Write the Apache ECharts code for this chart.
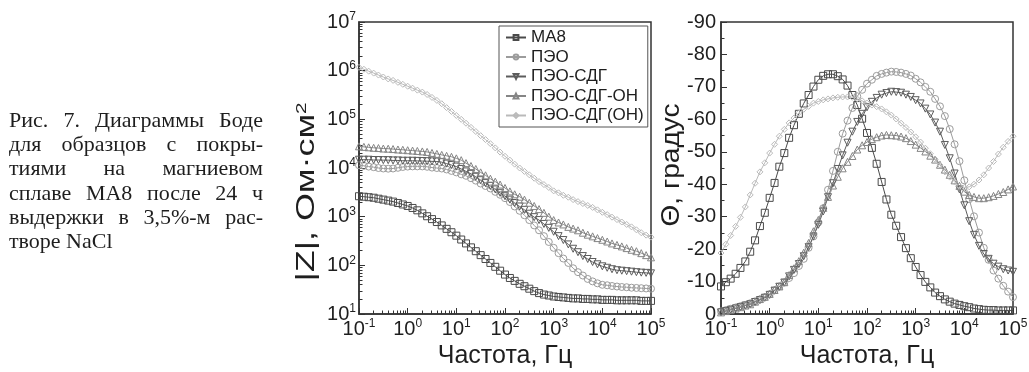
<!DOCTYPE html>
<html>
<head>
<meta charset="utf-8">
<script src="https://cdn.jsdelivr.net/npm/echarts@6/dist/echarts.min.js"></script>
<style>
  html, body { margin: 0; background: #fff; }
  #main { width: 1029px; height: 372px; }
</style>
</head>
<body>
<div id="main"></div>
<script>
// частоты, Гц (10 точек на декаду)
const freq = [
  0.1, 0.126, 0.158, 0.2, 0.251, 0.316, 0.398, 0.501, 0.631, 0.794,
  1, 1.26, 1.58, 2, 2.51, 3.16, 3.98, 5.01, 6.31, 7.94,
  10, 12.6, 15.8, 20, 25.1, 31.6, 39.8, 50.1, 63.1, 79.4,
  100, 126, 158, 200, 251, 316, 398, 501, 631, 794,
  1000, 1260, 1580, 2000, 2510, 3160, 3980, 5010, 6310, 7940,
  10000, 12600, 15800, 20000, 25100, 31600, 39800, 50100, 63100, 79400,
  100000
];

const names = ["МА8", "ПЭО", "ПЭО-СДГ", "ПЭО-СДГ-ОН", "ПЭО-СДГ(ОН)"];

// |Z|, Ом·см2
const zMA8 = [
  2630, 2570, 2510, 2450, 2340, 2240, 2140, 2040, 1910, 1780,
  1660, 1510, 1350, 1170, 1020, 891, 776, 661, 562, 479,
  407, 339, 282, 234, 195, 162, 135, 112, 93.3, 77.6,
  64.6, 55.0, 47.9, 41.7, 37.2, 33.1, 29.5, 26.9, 25.1, 24.0,
  22.9, 22.4, 21.9, 21.4, 20.9, 20.9, 20.4, 20.4, 20.0, 20.0,
  19.5, 19.5, 19.5, 19.1, 19.1, 19.1, 19.1, 19.1, 18.6, 18.6,
  18.6
];
const zPEO = [
  11400, 11100, 10700, 10400, 10000, 9770, 9680, 9770, 10100, 10500,
  10700, 10800, 10800, 10800, 10600, 10200, 10000, 9770, 9330, 8710,
  8130, 7410, 6920, 6170, 5500, 4790, 4270, 3800, 3240, 2820,
  2400, 2000, 1620, 1320, 1070, 851, 661, 525, 398, 302,
  229, 178, 138, 112, 87.1, 72.4, 61.7, 52.5, 46.8, 42.7,
  39.8, 38.9, 37.6, 36.7, 35.9, 35.5, 34.7, 34.3, 33.9, 33.5,
  33.1
];
const zSDG = [
  14800, 14800, 14800, 14600, 14600, 14500, 14500, 14300, 14300, 14100,
  14100, 14100, 14000, 13900, 13800, 13700, 13600, 13200, 12300, 11500,
  10700, 9550, 8510, 7590, 6610, 5620, 4900, 4270, 3630, 3090,
  2630, 2240, 1910, 1620, 1380, 1150, 977, 851, 708, 589,
  490, 398, 331, 269, 219, 186, 155, 135, 117, 105,
  95.5, 89.1, 83.2, 79.4, 77.6, 75.9, 74.1, 72.4, 70.8, 70.0,
  68.5
];
const zSDG_OH = [
  27900, 27200, 26600, 26000, 25700, 25100, 24900, 24500, 24000, 23700,
  23200, 22800, 22400, 21900, 21400, 20400, 19500, 18600, 17800, 17000,
  15800, 14500, 12600, 11000, 9550, 8130, 7080, 6030, 5250, 4570,
  3890, 3310, 2880, 2570, 2240, 1930, 1660, 1430, 1200, 1000,
  851, 759, 692, 617, 569, 525, 468, 427, 394, 363,
  335, 309, 282, 263, 245, 226, 209, 195, 178, 162,
  146
];
const zSDG_OH2 = [
  1170000, 1070000, 977000, 891000, 813000, 741000, 676000, 631000, 575000, 525000,
  479000, 437000, 398000, 363000, 324000, 282000, 245000, 209000, 174000, 145000,
  120000, 100000, 83200, 68400, 56200, 46200, 38400, 31600, 25900, 21200,
  17400, 14500, 12000, 10000, 8510, 7240, 6170, 5250, 4570, 3980,
  3390, 3090, 2750, 2510, 2240, 2040, 1860, 1700, 1550, 1380,
  1230, 1100, 977, 871, 776, 692, 617, 537, 468, 417,
  380
];

// фаза, градус
const pMA8 = [
  -8.5, -9.8, -10.9, -12.4, -14.2, -16.2, -19.2, -22.7, -27.1, -31.2,
  -35.8, -40.4, -45.4, -49.6, -54.3, -58.2, -61.7, -64.9, -67.5, -70.1,
  -72.2, -73.4, -73.9, -73.9, -73.3, -72.3, -70.4, -67.5, -64.4, -60.2,
  -55.8, -51.2, -46.3, -40.7, -35.3, -30.6, -27.2, -23.7, -20.3, -17.2,
  -14.5, -12.0, -9.9, -8.2, -6.6, -5.5, -4.5, -3.8, -3.2, -2.8,
  -2.4, -2.1, -1.7, -1.5, -1.3, -1.2, -1.2, -1.1, -1.1, -1.1,
  -1.1
];
const pPEO = [
  -0.8, -1.2, -1.6, -2.0, -2.4, -2.8, -3.3, -3.9, -4.5, -5.2,
  -6.1, -7.3, -8.5, -9.7, -11.1, -12.6, -14.8, -17.0, -20.4, -23.9,
  -28.2, -32.6, -38.3, -44.1, -50.0, -55.6, -59.6, -63.5, -67.1, -69.1,
  -71.0, -72.2, -73.4, -74.0, -74.4, -74.7, -74.6, -74.4, -74.0, -73.5,
  -72.5, -71.4, -70.0, -68.5, -66.3, -64.0, -61.0, -57.0, -52.3, -47.1,
  -41.2, -35.4, -30.1, -25.1, -20.4, -16.7, -13.4, -10.9, -8.7, -6.9,
  -5.2
];
const pSDG = [
  -0.5, -0.9, -1.3, -1.7, -2.1, -2.6, -3.0, -3.7, -4.3, -5.0,
  -5.9, -7.2, -8.4, -9.7, -11.6, -13.6, -15.4, -17.8, -20.6, -23.9,
  -27.5, -31.6, -36.0, -40.3, -44.7, -48.9, -52.8, -56.2, -59.2, -61.7,
  -63.7, -65.4, -66.6, -67.6, -68.1, -68.5, -68.4, -68.2, -67.6, -66.9,
  -65.9, -64.9, -63.3, -61.5, -59.0, -56.2, -52.1, -48.0, -43.3, -38.4,
  -33.5, -28.6, -24.4, -21.0, -18.5, -17.0, -15.5, -14.6, -13.8, -13.4,
  -13.0
];
const pSDG_OH = [
  -0.5, -0.9, -1.3, -1.7, -2.1, -2.6, -3.0, -3.8, -4.6, -5.3,
  -6.2, -7.4, -8.5, -9.8, -12.0, -14.1, -16.3, -18.9, -21.9, -25.5,
  -29.0, -32.7, -36.1, -39.6, -42.3, -44.9, -46.9, -48.7, -50.7, -52.0,
  -53.0, -53.9, -54.5, -55.0, -55.2, -55.1, -55.0, -54.7, -54.2, -53.3,
  -52.2, -51.2, -50.1, -48.8, -47.6, -46.0, -44.5, -42.9, -41.2, -39.5,
  -37.7, -36.7, -36.1, -35.7, -35.7, -36.0, -36.4, -37.0, -37.6, -38.4,
  -39.3
];
const pSDG_OH2 = [
  -18.8, -21.5, -24.2, -27.0, -29.8, -33.0, -36.7, -40.3, -43.8, -46.6,
  -49.6, -52.3, -54.8, -56.9, -58.9, -60.4, -62.0, -63.1, -64.0, -65.0,
  -65.5, -66.0, -66.3, -66.6, -66.8, -66.9, -66.9, -66.8, -66.3, -65.7,
  -65.0, -64.4, -63.9, -63.2, -62.3, -61.3, -60.1, -58.8, -57.5, -56.1,
  -54.6, -53.0, -51.1, -49.4, -47.7, -45.9, -43.8, -42.2, -40.7, -39.4,
  -39.0, -39.2, -40.0, -41.3, -42.9, -45.0, -47.0, -49.3, -51.4, -53.2,
  -54.8
];

// подписи осей
const xMajor = [0.1, 1, 10, 100, 1000, 10000, 100000];
const zMajor = [10, 100, 1000, 10000, 100000, 1000000, 10000000];

const caption = [
  "Рис. 7. Диаграммы Боде",
  "для образцов с покры-",
  "тиями на магниевом",
  "сплаве МА8 после 24 ч",
  "выдержки в 3,5%-м рас-",
  "творе NaCl"
];

// ---------------------------------------------------------------
const sans = "Liberation Sans, Arial, sans-serif";
const ink = "#1e1e1e";
const frame = "#333";

// малые деления логарифмической шкалы: 2..9 в каждой декаде
function minorTicks(lo, hi) {
  const out = [];
  for (let e = lo; e < hi; e++) {
    for (let k = 2; k <= 9; k++) out.push(+(k * Math.pow(10, e)).toPrecision(3));
  }
  return out;
}

const supRich = {
  b: { fontSize: 20, fontFamily: sans, color: ink, lineHeight: 22 },
  s: { fontSize: 12, fontFamily: sans, color: ink, lineHeight: 12, verticalAlign: "top" }
};
const powLabel = (v) => "{b|10}{s|" + Math.round(Math.log10(v)) + "}";

const looks = [
  { color: "#4a4a4a", symbol: "rect", size: 7, rot: 0 },
  { color: "#9c9c9c", symbol: "circle", size: 7, rot: 0 },
  { color: "#5c5c5c", symbol: "triangle", size: 7, rot: 180 },
  { color: "#858585", symbol: "triangle", size: 7, rot: 0 },
  { color: "#bababa", symbol: "diamond", size: 6, rot: 0 }
];

function makeSeries(idx, values, xi, yi) {
  const lk = looks[idx];
  return {
    name: names[idx],
    type: "line",
    xAxisIndex: xi,
    yAxisIndex: yi,
    data: freq.map((f, i) => [f, values[i]]),
    symbol: lk.symbol,
    symbolSize: lk.size,
    symbolRotate: lk.rot,
    showAllSymbol: true,
    lineStyle: { color: lk.color, width: 1 },
    itemStyle: { color: "rgba(255,255,255,0)", borderColor: lk.color, borderWidth: 1 },
    emphasis: { disabled: true }
  };
}

function mainX(grid) {
  return {
    type: "log", logBase: 10, gridIndex: grid, min: 0.1, max: 100000, position: "bottom",
    axisLine: { show: true, onZero: false, lineStyle: { color: frame, width: 1.5 } },
    axisTick: { show: true, inside: true, length: 6, customValues: xMajor, lineStyle: { color: frame, width: 1 } },
    axisLabel: { customValues: xMajor, formatter: powLabel, rich: supRich, margin: 4,
      showMinLabel: true, showMaxLabel: true, hideOverlap: false },
    splitLine: { show: false },
    name: "Частота, Гц", nameLocation: "middle", nameGap: 27,
    nameTextStyle: { fontSize: 25, fontFamily: sans, color: ink }
  };
}
function minorX(grid) {
  return {
    type: "log", logBase: 10, gridIndex: grid, min: 0.1, max: 100000, position: "bottom",
    axisLine: { show: false, onZero: false },
    axisTick: { show: true, inside: true, length: 3.5, customValues: minorTicks(-1, 5), lineStyle: { color: frame, width: 1 } },
    axisLabel: { show: false },
    splitLine: { show: false }
  };
}

const chart = echarts.init(document.getElementById("main"));

// текст подписи с выравниванием по ширине
const capFont = "22px Liberation Serif";
const ctx = document.createElement("canvas").getContext("2d");
ctx.font = capFont;
const capLeft = 9, capRight = 263, capBase = 121, capStep = 24.3;
const capText = [];
caption.forEach((line, li) => {
  const y = capBase + li * capStep;
  const words = line.split(" ");
  if (li === caption.length - 1 || words.length < 2) {
    capText.push({ type: "text", x: capLeft, y: y, style: { text: line, font: capFont, fill: ink, align: "left", verticalAlign: "middle" } });
    return;
  }
  const widths = words.map((w) => ctx.measureText(w).width);
  const gap = (capRight - capLeft - widths.reduce((a, b) => a + b, 0)) / (words.length - 1);
  let x = capLeft;
  words.forEach((w, wi) => {
    capText.push({ type: "text", x: x, y: y, style: { text: w, font: capFont, fill: ink, align: "left", verticalAlign: "middle" } });
    x += widths[wi] + gap;
  });
});

const option = {
  animation: false,
  backgroundColor: "#fff",
  grid: [
    { left: 359, top: 22, width: 292, height: 292, show: true, borderColor: frame, borderWidth: 1.5, outerBoundsMode: "none" },
    { left: 721, top: 22, width: 292, height: 292, show: true, borderColor: frame, borderWidth: 1.5, outerBoundsMode: "none" }
  ],
  legend: {
    data: names,
    orient: "vertical",
    left: 499, top: 26,
    padding: [3, 4, 3, 6],
    itemGap: 2.5,
    itemWidth: 20,
    itemHeight: 6,
    borderColor: "#555",
    borderWidth: 1,
    backgroundColor: "#fff",
    textStyle: { fontSize: 17, fontFamily: sans, color: ink, lineHeight: 17 }
  },
  xAxis: [mainX(0), mainX(1), minorX(0), minorX(1)],
  yAxis: [
    {
      type: "log", logBase: 10, gridIndex: 0, min: 10, max: 10000000, position: "left",
      axisLine: { show: true, onZero: false, lineStyle: { color: frame, width: 1.5 } },
      axisTick: { show: true, inside: true, length: 6, customValues: zMajor, lineStyle: { color: frame, width: 1 } },
      axisLabel: { customValues: zMajor, formatter: powLabel, rich: supRich, margin: 3,
        showMinLabel: true, showMaxLabel: true, hideOverlap: false },
      splitLine: { show: false }
    },
    {
      type: "value", gridIndex: 1, min: -90, max: 0, interval: 10, inverse: true, position: "left",
      axisLine: { show: true, onZero: false, lineStyle: { color: frame, width: 1.5 } },
      axisTick: { show: true, inside: true, length: 6, lineStyle: { color: frame, width: 1 } },
      minorTick: { show: true, splitNumber: 2, length: 3.5, lineStyle: { color: frame, width: 1 } },
      axisLabel: { fontSize: 20, fontFamily: sans, color: ink, margin: 5 },
      splitLine: { show: false }
    },
    {
      type: "log", logBase: 10, gridIndex: 0, min: 10, max: 10000000, position: "left",
      axisLine: { show: false, onZero: false },
      axisTick: { show: true, inside: true, length: 3.5, customValues: minorTicks(1, 7), lineStyle: { color: frame, width: 1 } },
      axisLabel: { show: false },
      splitLine: { show: false }
    }
  ],
  graphic: [
    ...capText,
    {
      type: "text", x: 307, y: 192, rotation: Math.PI / 2, scaleX: 1.38,
      style: {
        text: "{t||Z|, Ом·см}{s|2}",
        rich: {
          t: { fontSize: 26, fontFamily: sans, fill: ink },
          s: { fontSize: 15, fontFamily: sans, fill: ink, verticalAlign: "top" }
        },
        align: "center", verticalAlign: "middle"
      }
    },
    {
      type: "text", x: 672, y: 165, rotation: Math.PI / 2, scaleX: 1.08,
      style: { text: "Θ, градус", font: "26px " + sans, fill: ink, align: "center", verticalAlign: "middle" }
    }
  ],
  series: [
    makeSeries(0, zMA8, 0, 0),
    makeSeries(1, zPEO, 0, 0),
    makeSeries(2, zSDG, 0, 0),
    makeSeries(3, zSDG_OH, 0, 0),
    makeSeries(4, zSDG_OH2, 0, 0),
    makeSeries(0, pMA8, 1, 1),
    makeSeries(1, pPEO, 1, 1),
    makeSeries(2, pSDG, 1, 1),
    makeSeries(3, pSDG_OH, 1, 1),
    makeSeries(4, pSDG_OH2, 1, 1)
  ]
};

chart.setOption(option);
</script>
</body>
</html>
